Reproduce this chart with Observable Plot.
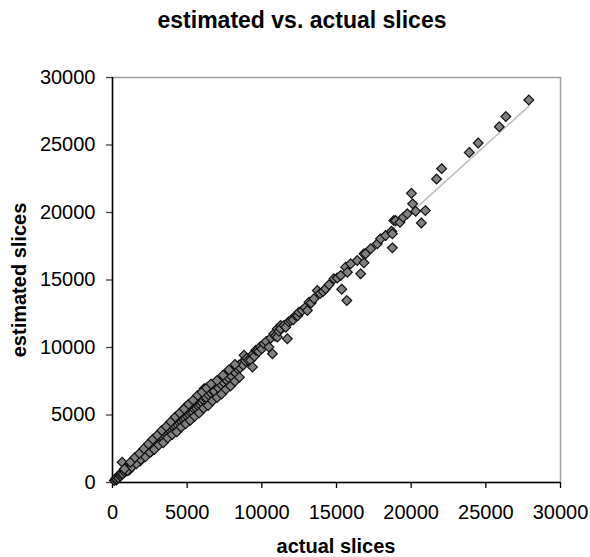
<!DOCTYPE html>
<html>
<head>
<meta charset="utf-8">
<script src="https://cdn.jsdelivr.net/npm/d3@7"></script>
<script src="https://cdn.jsdelivr.net/npm/@observablehq/plot@0.6"></script>
<style>
  body { margin: 0; background: #fff; }
  #chart { position: relative; width: 590px; height: 557px; }
</style>
</head>
<body>
<div id="chart"></div>
<script>
const titleText = "estimated vs. actual slices";
const xLabel = "actual slices";
const yLabel = "estimated slices";
const xTicks = [0, 5000, 10000, 15000, 20000, 25000, 30000];
const yTicks = [0, 5000, 10000, 15000, 20000, 25000, 30000];

const actual = [
  120,200,250,300,330,400,450,520,550,600,
  650,700,760,820,850,900,950,1000,1050,1100,
  1120,1150,1180,1250,1300,1350,1400,1420,1480,1530,
  1600,1650,1700,1720,1780,1830,1850,1900,1950,2000,
  2050,2080,2150,2200,2250,2320,2380,2400,2450,2500,
  2560,2600,2620,2700,2700,2750,2820,2880,2950,3000,
  3050,3100,3150,3200,3250,3300,3380,3420,3480,3500,
  3550,3600,3650,3700,3720,3780,3850,3900,3950,4000,
  4080,4100,4150,4200,4250,4320,4380,4450,4500,4560,
  4600,4620,4700,4750,4820,4880,4900,4950,5000,5080,
  5150,5200,5250,5300,5320,5380,5400,5450,5500,5560,
  5620,5700,5750,5820,5880,5900,5950,6000,
  6050,6100,6130,6130,6200,6280,6350,6420,6500,6580,
  6690,6750,6820,6900,7030,7100,7200,7280,7360,7450,
  7550,7620,7700,7780,7850,7950,8050,8140,8220,8300,
  8400,8470,8550,8650,8750,8810,8900,9000,9100,9250,
  9370,9400,9500,9600,9700,9800,9900,10000,10150,
  10300,10480,10600,10710,10810,10900,11040,11040,11150,11260,
  11260,11480,11600,11710,11800,11940,12100,12270,12400,12490,
  12700,12900,13050,13160,13300,13490,13720,13900,14100,14270,
  14500,14830,15050,15280,15350,15690,15610,15730,15950,
  16390,16620,16840,16840,16950,17290,17730,17950,18290,18690,
  18740,18740,18840,18960,19250,19470,19740,20020,20100,20300,
  20680,20950,21700,22040,23890,24490,25900,26340,27880,
  1000,1300,1600,1900,2200,2500,2800,3100,3400,3700,
  4000,4300,4600,4900,5200,5500,5800,6100,6400,6700,
  7000,7300,7600,7900,8200,8500,
  800,1200,1500,1800,2100,2400,2700,3000,3300,3600,
  3900,4200,4500,4800,5100,5400,5700,6000,6300,6600,
  7000,7400,7800,8200
];
const estimated = [
  150,260,180,250,420,350,560,480,620,720,
  1500,640,900,780,950,1100,860,1200,980,900,
  1300,1250,1080,1450,1220,1600,1500,1350,1700,1460,
  1820,1560,1800,1950,1700,2100,1600,1800,2250,1950,
  2150,2350,2000,2450,2150,2600,2250,2500,2700,2400,
  2850,2300,2500,3000,2800,2650,3150,2750,3250,2900,
  3350,3000,3450,3100,3550,3200,3650,3300,3800,3600,
  3400,3900,3550,4200,4050,3650,4150,3800,4300,3900,
  4400,4200,4000,4550,4150,4700,4250,4800,4400,4950,
  4700,4500,5100,4650,5200,4750,5600,5350,4900,5450,
  5000,5600,5150,5400,5750,5250,5200,5850,5400,6000,
  5500,6100,5650,6250,5750,6000,6350,5900,
  6500,6100,6950,6330,6600,6300,6800,6500,6900,6650,
  6830,7050,6750,7250,7200,7000,7500,7250,7570,7400,
  7800,7600,8180,7750,8050,7900,8300,8310,8150,8550,
  8400,8680,8500,8850,8700,9420,9000,9200,9050,9050,
  8550,9500,9350,9800,9780,9700,10050,9900,10280,
  10450,10030,10700,9540,11020,10850,11390,10770,11200,11630,
  11390,11630,11500,10650,11900,12000,12050,12370,12350,12620,
  12750,12950,12740,13360,13300,13610,14220,14000,14150,14350,
  14650,15090,15150,15340,14320,13480,15950,15580,16200,
  16440,15460,16270,16940,16940,17310,17680,18050,18290,18610,
  17380,18420,19400,19400,19270,19640,19900,21420,20640,20090,
  19230,20140,22480,23250,24450,25150,26350,27110,28330,
  880,1150,1380,1700,1900,2220,2450,2780,2950,3300,
  3550,3750,4100,4350,4600,4900,5150,5500,5700,6050,
  6300,6550,6900,7150,7500,7800,
  1000,1500,1850,2150,2500,2850,3200,3500,3850,4150,
  4500,4850,5150,5450,5800,6100,6450,6700,7000,7300,
  7550,7950,8350,8750
];
// trend line (y = x fit) end values
const trendX = [0, 27880];
const trendY = [0, 27880];

const points = actual.map((a, i) => ({actual: a, estimated: estimated[i]}));
const trend = trendX.map((x, i) => ({x, y: trendY[i]}));

const font = "'Liberation Sans', Arial, sans-serif";
const fmt = d => String(d);

const plot = Plot.plot({
  width: 590,
  height: 557,
  marginLeft: 112,
  marginRight: 30,
  marginTop: 77,
  marginBottom: 75,
  style: {fontFamily: font, fontSize: "20px", background: "#fff", color: "#000", overflow: "visible"},
  x: {domain: [0, 30000]},
  y: {domain: [0, 30000]},
  marks: [
    Plot.frame({stroke: "#a0a0a0", strokeWidth: 1.5}),
    Plot.axisX({ticks: xTicks, tickFormat: fmt, tickSize: 6, tickPadding: 16, fontSize: 20, label: null, stroke: "#000", strokeWidth: 1.3}),
    Plot.axisY({ticks: yTicks, tickFormat: fmt, tickSize: 6, tickPadding: 11, fontSize: 20, label: null, stroke: "#444", strokeWidth: 1.3}),
    Plot.ruleY([0], {stroke: "#000", strokeWidth: 1.5}),
    Plot.ruleX([0], {stroke: "#000", strokeWidth: 1.5}),
    Plot.line(trend, {x: "x", y: "y", stroke: "#c4c4c4", strokeWidth: 1.8}),
    Plot.dot(points, {x: "actual", y: "estimated", symbol: "diamond2", r: 4.4, fill: "#808080", stroke: "#111", strokeWidth: 1.2})
  ]
});

const svg = d3.select(plot);
svg.append("text")
  .attr("x", 302).attr("y", 28)
  .attr("text-anchor", "middle")
  .attr("font-family", font).attr("font-size", 23).attr("font-weight", "bold")
  .text(titleText);
svg.append("text")
  .attr("x", 336).attr("y", 553)
  .attr("text-anchor", "middle")
  .attr("font-family", font).attr("font-size", 20).attr("font-weight", "bold")
  .text(xLabel);
svg.append("text")
  .attr("transform", "translate(26,280) rotate(-90)")
  .attr("text-anchor", "middle")
  .attr("font-family", font).attr("font-size", 20).attr("font-weight", "bold")
  .text(yLabel);

document.getElementById("chart").appendChild(plot);
</script>
</body>
</html>
